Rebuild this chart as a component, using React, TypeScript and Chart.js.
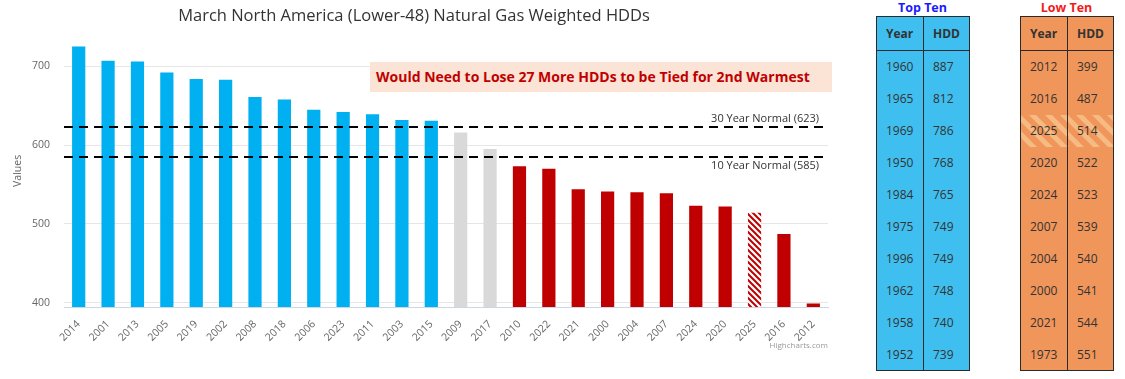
import React, { useEffect, useRef } from "react";
import { Chart, registerables } from "chart.js";

Chart.register(...registerables);

// ---------- data ----------
const titleText = "March North America (Lower-48) Natural Gas Weighted HDDs";
const years = [
  "2014", "2001", "2013", "2005", "2019", "2002", "2008", "2018", "2006", "2023", "2011", "2003", "2015",
  "2009", "2017", "2010", "2022", "2021", "2000", "2004", "2007", "2024", "2020", "2025", "2016", "2012",
];
const hdds = [
  725, 707, 706, 692, 684, 683, 661, 658, 645, 642, 639, 632, 631,
  616, 595, 573, 570, 544, 541, 540, 539, 523, 522, 514, 487, 399,
];
const projectedYear = "2025";
const normalValues = [623, 585];
const normalLabels = ["30 Year Normal (623)", "10 Year Normal (585)"];
const yTicks = [400, 500, 600, 700];
const yMin = 394.5;
const yMax = 740;
const annotationText = "Would Need to Lose 27 More HDDs to be Tied for 2nd Warmest";

const topTenYears = ["1960", "1965", "1969", "1950", "1984", "1975", "1996", "1962", "1958", "1952"];
const topTenHdd = [887, 812, 786, 768, 765, 749, 749, 748, 740, 739];
const lowTenYears = ["2012", "2016", "2025", "2020", "2024", "2007", "2004", "2000", "2021", "1973"];
const lowTenHdd = [399, 487, 514, 522, 523, 539, 540, 541, 544, 551];

// ---------- styles ----------
const BLUE = "#00b0f0";
const GRAY = "#d9d9d9";
const RED = "#c00000";
const FONT = "'Open Sans', 'DejaVu Sans', sans-serif";

function makeHatch(fg: string, bg: string, size: number, lw: number) {
  const c = document.createElement("canvas");
  c.width = size;
  c.height = size;
  const g = c.getContext("2d")!;
  g.fillStyle = bg;
  g.fillRect(0, 0, size, size);
  g.strokeStyle = fg;
  g.lineWidth = lw;
  g.beginPath();
  g.moveTo(-size, -size);
  g.lineTo(size * 2, size * 2);
  g.moveTo(-size, 0);
  g.lineTo(size, size * 2);
  g.moveTo(0, -size);
  g.lineTo(size * 2, size);
  g.stroke();
  return g.createPattern(c, "repeat")!;
}

const overlayPlugin = {
  id: "overlay",
  afterDatasetsDraw(chart: any) {
    const { ctx, chartArea, scales } = chart;
    const y = scales.y;
    ctx.save();
    normalValues.forEach((v, i) => {
      const py = Math.round(y.getPixelForValue(v));
      ctx.setLineDash([9, 6]);
      ctx.lineWidth = 2;
      ctx.strokeStyle = "#000";
      ctx.beginPath();
      ctx.moveTo(chartArea.left, py);
      ctx.lineTo(chartArea.right, py);
      ctx.stroke();
      ctx.setLineDash([]);
      ctx.font = `11px ${FONT}`;
      ctx.fillStyle = "#333";
      ctx.textAlign = "right";
      ctx.textBaseline = "middle";
      ctx.fillText(normalLabels[i], chartArea.right - 9, i === 0 ? py - 8 : py + 9);
    });
    ctx.font = `8px ${FONT}`;
    ctx.fillStyle = "#999";
    ctx.textAlign = "right";
    ctx.textBaseline = "middle";
    ctx.fillText("Highcharts.com", chartArea.right, 346);
    ctx.restore();
  },
};

function ChartPanel() {
  const ref = useRef<HTMLCanvasElement | null>(null);
  useEffect(() => {
    if (!ref.current) return;
    const redHatch = makeHatch(RED, "#ffffff", 6, 2);
    const colors = hdds.map((v, i) =>
      years[i] === projectedYear ? redHatch : v > normalValues[0] ? BLUE : v >= normalValues[1] ? GRAY : RED
    );
    const chart = new Chart(ref.current, {
      type: "bar",
      data: {
        labels: years,
        datasets: [
          {
            data: hdds,
            backgroundColor: colors as any,
            borderWidth: 0,
            barPercentage: 0.45,
            categoryPercentage: 1,
          },
        ],
      },
      options: {
        responsive: false,
        animation: false,
        layout: { padding: { left: 0, right: 12, top: 0, bottom: 0 } },
        plugins: {
          legend: { display: false },
          tooltip: { enabled: false },
          title: {
            display: true,
            text: titleText,
            color: "#333",
            font: { family: FONT, size: 16.5, weight: "normal" as any },
            padding: { top: 6, bottom: 9 },
          },
        },
        scales: {
          x: {
            grid: { display: false },
            border: { display: true, color: "#ccd6eb", width: 1 },
            ticks: {
              autoSkip: false,
              minRotation: 45,
              maxRotation: 45,
              color: "#666",
              padding: 3,
              font: { family: FONT, size: 10.5 },
            },
            afterFit: (s: any) => {
              s.height = 72;
            },
          },
          y: {
            min: yMin,
            max: yMax,
            afterBuildTicks: (s: any) => {
              s.ticks = yTicks.map((v) => ({ value: v }));
            },
            afterFit: (s: any) => {
              s.width = 64;
            },
            grid: { color: "#e6e6e6", drawTicks: false },
            border: { display: false },
            ticks: { padding: 14, color: "#666", font: { family: FONT, size: 10.5 } },
            title: {
              display: true,
              text: "Values",
              color: "#666",
              font: { family: FONT, size: 10.5 },
              padding: { top: 12, bottom: 0 },
            },
          },
        },
      },
      plugins: [overlayPlugin],
    });
    return () => chart.destroy();
  }, []);
  return <canvas ref={ref} width={840} height={379} style={{ position: "absolute", left: 0, top: 0, width: 840, height: 379 }} />;
}

function RankTable(props: {
  title: string;
  titleColor: string;
  left: number;
  fill: string;
  stripe: string;
  years: string[];
  values: number[];
  hatchYear?: string;
}) {
  const { title, titleColor, left, fill, stripe, years: ys, values, hatchYear } = props;
  const colW = [47, 46];
  const cellBase: React.CSSProperties = {
    padding: "0 0 0 9px",
    textAlign: "left",
    verticalAlign: "middle",
    boxSizing: "border-box",
  };
  return (
    <>
      <div
        style={{
          position: "absolute",
          left: left - 10,
          top: 0,
          width: colW[0] + colW[1] + 20,
          textAlign: "center",
          font: `bold 12.5px ${FONT}`,
          color: titleColor,
          lineHeight: "16px",
        }}
      >
        {title}
      </div>
      <table
        style={{
          position: "absolute",
          left,
          top: 16,
          width: colW[0] + colW[1],
          borderCollapse: "collapse",
          tableLayout: "fixed",
          background: fill,
          border: "1.5px solid #2a2a2a",
          font: `12px ${FONT}`,
          color: "#333",
        }}
      >
        <colgroup>
          <col style={{ width: colW[0] }} />
          <col style={{ width: colW[1] }} />
        </colgroup>
        <thead>
          <tr style={{ height: 34 }}>
            <th style={{ ...cellBase, fontWeight: "bold", borderRight: "1.5px solid #2a2a2a", borderBottom: "1.5px solid #2a2a2a" }}>Year</th>
            <th style={{ ...cellBase, fontWeight: "bold", borderBottom: "1.5px solid #2a2a2a" }}>HDD</th>
          </tr>
        </thead>
        <tbody>
          {ys.map((y, i) => {
            const bg =
              y === hatchYear
                ? `repeating-linear-gradient(45deg, ${fill} 0px, ${fill} 6px, ${stripe} 6px, ${stripe} 11px)`
                : undefined;
            return (
              <tr key={y + i} style={{ height: 32 }}>
                <td style={{ ...cellBase, borderRight: "1.5px solid #2a2a2a", background: bg }}>{y}</td>
                <td style={{ ...cellBase, background: bg }}>{values[i]}</td>
              </tr>
            );
          })}
        </tbody>
      </table>
    </>
  );
}

export default function App() {
  return (
    <div style={{ position: "fixed", left: 0, top: 0, width: 1125, height: 379, background: "#fff", overflow: "hidden" }}>
      <ChartPanel />
      <div
        style={{
          position: "absolute",
          left: 370,
          top: 62,
          width: 462,
          height: 30,
          background: "#fbe4d6",
          color: "#c00000",
          font: `bold 14px ${FONT}`,
          lineHeight: "30px",
          paddingLeft: 6,
          boxSizing: "border-box",
          whiteSpace: "nowrap",
        }}
      >
        {annotationText}
      </div>
      <RankTable
        title="Top Ten"
        titleColor="#1a1aff"
        left={876}
        fill="#3fbfef"
        stripe="#3fbfef"
        years={topTenYears}
        values={topTenHdd}
      />
      <RankTable
        title="Low Ten"
        titleColor="#f21b1b"
        left={1020}
        fill="#f0965a"
        stripe="#f6bb82"
        years={lowTenYears}
        values={lowTenHdd}
        hatchYear={projectedYear}
      />
    </div>
  );
}
